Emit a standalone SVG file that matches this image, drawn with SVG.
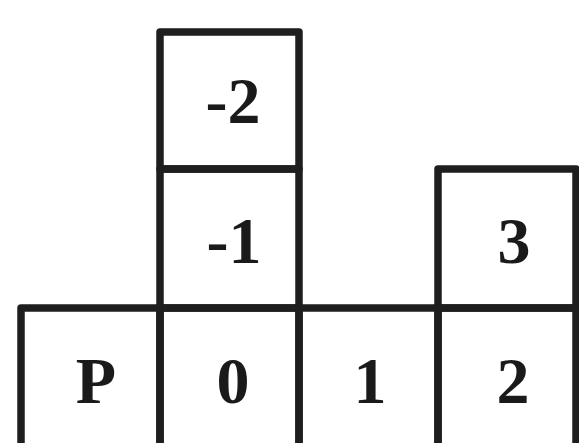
<svg xmlns="http://www.w3.org/2000/svg" width="579" height="443" viewBox="0 0 579 443">
<style>
.cell{fill:none;stroke:#1e1e1e;stroke-width:7.5;stroke-linejoin:round}
.lbl{font-family:"Liberation Serif","Times New Roman",serif;font-weight:bold;font-size:66px;fill:#1a1a1a;text-anchor:middle}
</style>
<rect width="579" height="443" fill="#ffffff"/>
<g id="cell-m2"><rect class="cell" x="160" y="32" width="139" height="137"/><text class="lbl" x="233" y="123">-2</text></g>
<g id="cell-m1"><rect class="cell" x="160" y="169" width="139" height="139"/><text class="lbl" x="234" y="263">-1</text></g>
<g id="cell-3"><rect class="cell" x="438" y="169" width="138" height="139"/><text class="lbl" x="514" y="263">3</text></g>
<g id="cell-P"><rect class="cell" x="21" y="308" width="139" height="145"/><text class="lbl" x="96" y="403">P</text></g>
<g id="cell-0"><rect class="cell" x="160" y="308" width="139" height="145"/><text class="lbl" x="233" y="403">0</text></g>
<g id="cell-1"><rect class="cell" x="299" y="308" width="139" height="145"/><text class="lbl" x="370" y="403">1</text></g>
<g id="cell-2"><rect class="cell" x="438" y="308" width="138" height="145"/><text class="lbl" x="513" y="403">2</text></g>
<g id="connectors"></g>
</svg>
